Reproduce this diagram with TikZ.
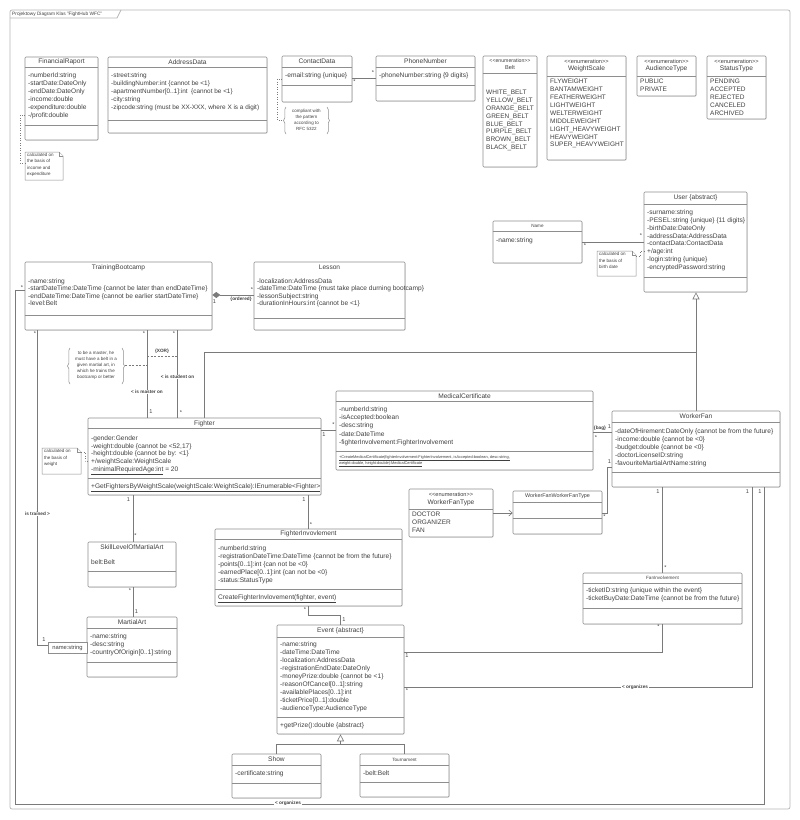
\documentclass[tikz,border=0pt]{standalone}
\usepackage{fontspec}
\setmainfont{Liberation Sans}
\usetikzlibrary{arrows.meta,decorations.pathreplacing,shadows,fit}
\definecolor{ln}{HTML}{8E8E8E}
\definecolor{tx}{HTML}{404040}
\definecolor{cn}{HTML}{7A7A7A}
\definecolor{fl}{HTML}{B4B4B4}
\tikzset{
  umlbox/.style={draw=ln, line width=0.6pt, fill=white, rounded corners=1pt, inner sep=0pt,
    drop shadow={shadow xshift=0.7pt, shadow yshift=-0.7pt, opacity=0.25}},
  sepline/.style={draw=ln, line width=0.5pt},
  txt/.style={text=tx, inner sep=0pt, anchor=north west, align=left, font=\fontsize{6.6}{7.9}\selectfont},
  ttl/.style={text=tx, inner sep=0pt, anchor=center, font=\fontsize{6.6}{7.6}\selectfont},
  sttl/.style={text=tx, inner sep=0pt, anchor=center, font=\fontsize{4.6}{5.5}\selectfont},
  conn/.style={draw=cn, line width=0.6pt},
  mult/.style={text=tx, inner sep=0pt, font=\fontsize{5.6}{6}\selectfont},
  lbl/.style={text=tx, inner sep=0.6pt, fill=white, font=\bfseries\fontsize{4.7}{5}\selectfont},
  notetxt/.style={text=tx, inner sep=0pt, anchor=north west, align=left, font=\fontsize{4.5}{6.3}\selectfont},
  bracetxt/.style={text=tx, inner sep=0pt, anchor=north, align=center, font=\fontsize{4.5}{5.9}\selectfont},
  notel/.style={draw=ln, line width=0.5pt, fill=white},
  dotc/.style={draw=cn, line width=0.5pt, dotted},
  dashc/.style={draw=cn, line width=0.5pt, dash pattern=on 2pt off 1.5pt},
  bracel/.style={draw=ln, line width=0.5pt, decorate, decoration={brace, amplitude=2.5pt}},
  framel/.style={draw=fl, line width=0.7pt},
}
\newcommand{\umlcls}[5]{\node[umlbox, fit={(#2,#3) (#4,#5)}] (#1) {};}
\newcommand{\usep}[2]{\draw[sepline] (#1.west |- 0,#2) -- (#1.east |- 0,#2);}
\newcommand{\notefold}[5]{%
  \draw[notel] (#2,#3) -- (#4-4,#3) -- (#4,#3+4) -- (#4,#5) -- (#2,#5) -- cycle;
  \draw[notel] (#4-4,#3) -- (#4-4,#3+4) -- (#4,#3+4);
  \coordinate (#1) at (#2,#3);}
\begin{document}
\begin{tikzpicture}[x=1pt,y=-1pt]
\useasboundingbox (0,0) rectangle (800,820);
% frame
\draw[framel, rounded corners=2pt] (10,10) rectangle (790,809);
\node[anchor=west, text=tx, inner sep=0pt, font=\fontsize{4.8}{5}\selectfont] (frametitle) at (12,13.8) {Projektowy Diagram Klas "FightHub WFC"};
\draw[framel] (10,18) -- (117,18) -- (121,10);

% ---------- FinancialRaport
\umlcls{fr}{25}{57}{98}{140}
\node[ttl] (frt) at (61.5,62) {FinancialRaport};
\usep{fr}{67}\usep{fr}{125}
\node[txt, font=\fontsize{6.6}{8}\selectfont] (fra) at (28,72.5) {-numberId:string\\-startDate:DateOnly\\-endDate:DateOnly\\-income:double\\-expenditure:double\\-/profit:double};
\notefold{n1}{25}{152}{63}{180}
\node[notetxt] (n1t) at (27,153) {calculated on\\the basis of\\income and\\expenditure};
\draw[dotc] (fr.west |- 0,115) -- (20,115) -- (20,163) -- (n1 |- 0,163);

% ---------- AddressData
\umlcls{ad}{108}{57}{267}{133}
\node[ttl] (adt) at (187.5,62) {AddressData};
\usep{ad}{67}\usep{ad}{120}
\node[txt, font=\fontsize{6.4}{8}\selectfont] (ada) at (111,72.5) {-street:string\\-buildingNumber:int \{cannot be <1\}\\-apartmentNumber[0..1]:int \ \{cannot be <1\}\\-city:string\\-zipcode:string (must be XX-XXX, where X is a digit)};

% ---------- ContactData / PhoneNumber
\umlcls{cd}{282}{56}{352}{102}
\node[ttl] (cdt) at (317,61.5) {ContactData};
\usep{cd}{67}\usep{cd}{85}
\node[txt] (cda) at (285,72.5) {-email:string \{unique\}};
\umlcls{pn}{376}{56}{475}{101}
\node[ttl] (pnt) at (425.5,61.5) {PhoneNumber};
\usep{pn}{67}\usep{pn}{85}
\node[txt] (pna) at (379,72.5) {-phoneNumber:string \{9 digits\}};
\draw[conn] (cd.east |- 0,78) -- (pn.west |- 0,78);
\node[mult] (m-cd) at (354.5,81.5) {*};
\node[mult] (m-pn) at (373,73) {*};
\node[bracetxt] (n2t) at (306.5,109) {compliant with\\the pattern\\according to\\RFC 5322};
\draw[bracel] (286,134) -- (286,107);
\draw[bracel] (327,107) -- (327,134);
\coordinate (n2) at (283,120);
\draw[dotc] (cd.west |- 0,79) -- (277,79) -- (277,120) -- (n2);

% ---------- Enumerations
\umlcls{belt}{483}{56}{537}{167}
\node[ttl, font=\fontsize{5.2}{6}\selectfont] (belt1) at (510,60.5) {<{}<enumeration>{}>};
\node[ttl, font=\fontsize{5.6}{6}\selectfont] (belt2) at (510,67) {Belt};
\usep{belt}{73}
\node[txt, font=\fontsize{6.5}{7.86}\selectfont] (belta) at (486,90) {WHITE\_BELT\\YELLOW\_BELT\\ORANGE\_BELT\\GREEN\_BELT\\BLUE\_BELT\\PURPLE\_BELT\\BROWN\_BELT\\BLACK\_BELT};

\umlcls{ws}{547}{56}{626}{160}
\node[ttl, font=\fontsize{5.6}{6}\selectfont] (ws1) at (586.5,61) {<{}<enumeration>{}>};
\node[ttl] (ws2) at (586.5,69) {WeightScale};
\usep{ws}{76}
\node[txt, font=\fontsize{6.5}{7.9}\selectfont] (wsa) at (550,79) {FLYWEIGHT\\BANTAMWEIGHT\\FEATHERWEIGHT\\LIGHTWEIGHT\\WELTERWEIGHT\\MIDDLEWEIGHT\\LIGHT\_HEAVYWEIGHT\\HEAVYWEIGHT\\SUPER\_HEAVYWEIGHT};

\umlcls{at}{637}{56}{696}{96}
\node[ttl, font=\fontsize{5.6}{6}\selectfont] (at1) at (666.5,61) {<{}<enumeration>{}>};
\node[ttl] (at2) at (666.5,69) {AudienceType};
\usep{at}{76}
\node[txt, font=\fontsize{6.5}{7.9}\selectfont] (ata) at (640,79) {PUBLIC\\PRIVATE};

\umlcls{st}{707}{56}{766}{119}
\node[ttl, font=\fontsize{5.6}{6}\selectfont] (st1) at (736.5,61) {<{}<enumeration>{}>};
\node[ttl] (st2) at (736.5,69) {StatusType};
\usep{st}{76}
\node[txt, font=\fontsize{6.5}{7.9}\selectfont] (sta) at (710,79) {PENDING\\ACCEPTED\\REJECTED\\CANCELED\\ARCHIVED};

% ---------- Name / User
\umlcls{nm}{493}{221}{582}{263}
\node[sttl] (nmt) at (537.5,226) {Name};
\usep{nm}{231}
\node[txt] (nma) at (496,237.5) {-name:string};

\umlcls{user}{644}{192}{747}{292}
\node[ttl] (usert) at (695.5,197.5) {User \{abstract\}};
\usep{user}{204}\usep{user}{277}
\node[txt, font=\fontsize{6.6}{7.86}\selectfont] (usera) at (647,209.5) {-surname:string\\-PESEL:string \{unique\} \{11 digits\}\\-birthDate:DateOnly\\-addressData:AddressData\\-contactData:ContactData\\+/age:int\\-login:string \{unique\}\\-encryptedPassword:string};
\draw[conn] (nm.east |- 0,242) -- (user.west |- 0,242);
\node[mult] (m-nm) at (585,246) {*};
\node[mult] (m-us) at (641,236) {*};
\notefold{n3}{597}{251}{636}{276}
\node[notetxt] (n3t) at (599,252.5) {calculated on\\the basis of\\birth date};
\draw[dotc] (636,256) -- (640,256) -- (640,251) -- (user.west |- 0,251);

% generalization to User
\draw[conn] (204,418) -- (204,352) -- (696,352);
\draw[conn, -{Triangle[open, length=7pt, width=7pt]}] (696,411) -- (user.south -| 696,0);

% ---------- TrainingBootcamp / Lesson
\umlcls{tb}{25}{262}{212}{330}
\node[ttl] (tbt) at (118.5,267.5) {TrainingBootcamp};
\usep{tb}{315}
\node[txt, font=\fontsize{6.6}{7.3}\selectfont] (tba) at (28,278.5) {-name:string\\-startDateTime:DateTime \{cannot be later than endDateTime\}\\-endDateTime:DateTime \{cannot be earlier startDateTime\}\\-level:Belt};

\umlcls{ls}{254}{262}{405}{330}
\node[ttl] (lst) at (329.5,267.5) {Lesson};
\usep{ls}{318}
\node[txt, font=\fontsize{6.6}{7.3}\selectfont] (lsa) at (257,278.5) {-localization:AddressData\\-dateTime:DateTime \{must take place durning bootcamp\}\\-lessonSubject:string\\-durationInHours:int \{cannot be <1\}};
\draw[conn, {Diamond[length=8pt, width=6pt]}-] (tb.east |- 0,295) -- (ls.west |- 0,295);
\node[mult] (m-tb1) at (214.5,302) {1};
\node[lbl, fill=none] (ordered) at (241,299) {\{ordered\}};
\node[mult] (m-ls) at (252,289.5) {*};

% ---------- Fighter
\umlcls{fg}{88}{418}{321}{495}
\node[ttl] (fgt) at (204.5,423.5) {Fighter};
\usep{fg}{428}\usep{fg}{478}
\node[txt, font=\fontsize{6.6}{7.75}\selectfont] (fga) at (91,435.5) {-gender:Gender\\-weight:double \{cannot be <52,17\}\\-height:double \{cannot be by: <1\}\\+/weightScale:WeightScale\\\underline{-minimalRequiredAge:int} = 20};
\node[txt] (fgm) at (91,483.5) {\underline{+GetFightersByWeightScale(weightScale:WeightScale):IEnumerable<Fighter>}};
\notefold{n4}{42}{448}{81}{474}
\node[notetxt] (n4t) at (44,449.5) {calculated on\\the basis of\\weight};
\draw[dotc] (81,452) -- (85,452) -- (85,461) -- (fg.west |- 0,461);

% TB - Fighter
\draw[conn] (tb.south -| 147,0) -- (fg.north -| 147,0);
\draw[conn] (tb.south -| 177,0) -- (fg.north -| 177,0);
\node[mult] (m-tb2) at (144,333.5) {*};
\node[mult] (m-tb3) at (174,333.5) {*};
\node[mult] (m-fg1) at (151,412) {1};
\node[mult] (m-fg2) at (181,412.5) {*};
\draw[dashc] (147,356) -- (177,356);
\node[lbl, fill=none] (xor) at (162,351) {\{XOR\}};
\node[lbl] (master) at (147,392) {< is master on};
\node[lbl] (student) at (177.5,377) {< is student on};
\node[bracetxt] (n5t) at (96,351) {to be a master, he\\must have a belt in a\\given martial art, in\\which he trains the\\bootcamp or better};
\draw[bracel] (70,384) -- (70,348);
\draw[bracel] (122,348) -- (122,384);
\coordinate (n5) at (125,365);
\draw[dashc] (n5) -- (147,365);

% ---------- MedicalCertificate
\umlcls{mc}{336}{391}{593}{470}
\node[ttl] (mct) at (464.5,396) {MedicalCertificate};
\usep{mc}{401}\usep{mc}{451}
\node[txt, font=\fontsize{6.6}{8.25}\selectfont] (mca) at (339,406.5) {-numberId:string\\-isAccepted:boolean\\-desc:string\\-date:DateTime\\-fighterInvolvement:FighterInvolvement};
\node[txt, font=\fontsize{3.9}{6}\selectfont] (mcm) at (339,455) {\underline{+CreateMedicalCertificate(fighterInvolvement:FighterInvolvement, isAccepted:boolean, desc:string,}\\\underline{weight:double, height:double):MedicalCertificate}};
\draw[conn] (fg.east |- 0,430) -- (mc.west |- 0,430);
\node[mult] (m-fg3) at (324,435) {1};
\node[mult] (m-mc1) at (333.5,424.5) {*};

% ---------- WorkerFan
\umlcls{wf}{612}{411}{780}{487}
\node[ttl] (wft) at (696,416.5) {WorkerFan};
\usep{wf}{422}\usep{wf}{472}
\node[txt, font=\fontsize{6.6}{8}\selectfont] (wfa) at (615,428.5) {-dateOfHirement:DateOnly \{cannot be from the future\}\\-income:double \{cannot be <0\}\\-budget:double \{cannot be <0\}\\-doctorLicenseID:string\\-favouriteMartialArtName:string};
\draw[conn] (mc.east |- 0,432) -- (wf.west |- 0,432);
\node[lbl, fill=none] (bag) at (600,428) {\{bag\}};
\node[mult] (m-wf1) at (609.5,427) {1};
\node[mult] (m-mc2) at (596,437.5) {*};

% ---------- WorkerFanType / WorkerFanWorkerFanType
\umlcls{wftype}{409}{489}{493}{537}
\node[ttl, font=\fontsize{5.6}{6}\selectfont] (wfty1) at (451,494) {<{}<enumeration>{}>};
\node[ttl] (wfty2) at (451,502.5) {WorkerFanType};
\usep{wftype}{509}
\node[txt, font=\fontsize{6.5}{7.9}\selectfont] (wftya) at (412,511.5) {DOCTOR\\ORGANIZER\\FAN};
\umlcls{wfw}{513}{491}{602}{534}
\node[ttl, font=\fontsize{5.4}{6}\selectfont] (wfwt) at (557.5,496.5) {WorkerFanWorkerFanType};
\usep{wfw}{502}\usep{wfw}{518}
\draw[conn, -{Straight Barb[length=3.5pt, width=6pt]}] (wftype.east |- 0,513) -- (wfw.west |- 0,513);
\draw[conn] (wfw.east |- 0,513) -- (607,513) -- (607,467) -- (wf.west |- 0,467);
\node[mult] (m-wfw) at (604.5,517) {*};
\node[mult] (m-wf2) at (609.5,462) {1};

% ---------- SkillLevelOfMartialArt / MartialArt
\umlcls{sk}{88}{542}{176}{587}
\node[ttl] (skt) at (132,547) {SkillLevelOfMartialArt};
\usep{sk}{571}
\node[txt] (ska) at (91,559.5) {belt:Belt};
\draw[conn] (fg.south -| 133,0) -- (sk.north -| 133,0);
\node[mult] (m-fg4) at (128.5,499.5) {1};
\node[mult] (m-sk1) at (135.5,536) {*};

\umlcls{ma}{87}{617}{177}{677}
\node[ttl] (mat) at (132,622) {MartialArt};
\usep{ma}{628}\usep{ma}{662}
\node[txt, font=\fontsize{6.6}{8}\selectfont] (maa) at (90,633.5) {-name:string\\-desc:string\\-countryOfOrigin[0..1]:string};
\draw[conn] (sk.south -| 133,0) -- (ma.north -| 133,0);
\node[mult] (m-sk2) at (130,591) {*};
\node[mult] (m-ma1) at (136.5,612) {1};
\node[draw=ln, line width=0.5pt, fill=white, inner sep=0pt, fit={(48,642) (87,653)}] (qual) {};
\node[ttl, font=\fontsize{5.8}{6}\selectfont] (qualt) at (67.5,647.5) {name:string};
\draw[conn] (tb.south -| 37,0) -- (37,645) -- (qual.west |- 0,645);
\node[mult] (m-tb4) at (35,333.5) {*};
\node[mult] (m-ma2) at (44,640) {1};
\node[lbl] (trained) at (37.5,514) {is trained >};

% ---------- FighterInvolvement
\umlcls{fi}{215}{529}{402}{606}
\node[ttl] (fit) at (308.5,533.5) {FighterInvovlement};
\usep{fi}{539}\usep{fi}{589}
\node[txt, font=\fontsize{6.6}{8}\selectfont] (fia) at (218,545.5) {-numberId:string\\-registrationDateTime:DateTime \{cannot be from the future\}\\-points[0..1]:int \{can not be <0\}\\-earnedPlace[0..1]:int \{can not be <0\}\\-status:StatusType};
\node[txt] (fim) at (218,594.5) {\underline{CreateFighterInvlovement(fighter, event)}};
\draw[conn] (fg.south -| 308,0) -- (fi.north -| 308,0);
\node[mult] (m-fg5) at (304,499.5) {1};
\node[mult] (m-fi1) at (311,524.5) {*};

% ---------- Event
\umlcls{ev}{277}{625}{404}{734}
\node[ttl] (evt) at (340.5,631) {Event \{abstract\}};
\usep{ev}{637}\usep{ev}{717}
\node[txt, font=\fontsize{6.6}{8}\selectfont] (eva) at (280,641.5) {-name:string\\-dateTime:DateTime\\-localization:AddressData\\-registrationEndDate:DateOnly\\-moneyPrize:double \{cannot be <1\}\\-reasonOfCancel[0..1]:string\\-availablePlaces[0..1]:int\\-ticketPrice[0..1]:double\\-audienceType:AudienceType};
\node[txt] (evm) at (280,722.5) {+getPrize():double \{abstract\}};
\draw[conn] (fi.south -| 308,0) -- (308,615) -- (340,615) -- (ev.north -| 340,0);
\node[mult] (m-fi2) at (305,609.5) {*};
\node[mult] (m-ev1) at (344,620) {1};

% ---------- Show / Tournament
\umlcls{sh}{232}{754}{321}{798}
\node[ttl] (sht) at (276.5,759.5) {Show};
\usep{sh}{765}\usep{sh}{783}
\node[txt] (sha) at (235,770.5) {-certificate:string};
\umlcls{tr}{360}{754}{449}{797}
\node[sttl] (trt) at (404.5,759.5) {Tournament};
\usep{tr}{765}\usep{tr}{782}
\node[txt] (tra) at (363,770.5) {-belt:Belt};
\draw[conn] (sh.north) -- (sh.north |- 0,744) -- (tr.north |- 0,744) -- (tr.north);
\draw[conn, -{Triangle[open, length=7pt, width=7pt]}] (340.5,744) -- (ev.south -| 340.5,0);

% ---------- FanInvolvement
\umlcls{fan}{583}{573}{742}{624}
\node[sttl] (fant) at (662.5,578) {FanInvolvement};
\usep{fan}{583}\usep{fan}{608}
\node[txt] (fana) at (586,587.5) {-ticketID:string \{unique within the event\}\\-ticketBuyDate:DateTime \{cannot be from the future\}};
\draw[conn] (wf.south -| 662,0) -- (fan.north -| 662,0);
\node[mult] (m-wf3) at (658,491.5) {1};
\node[mult] (m-fan1) at (665.5,568) {*};
\draw[conn] (fan.south -| 662,0) -- (662,652) -- (ev.east |- 0,652);
\node[mult] (m-fan2) at (658.5,627) {*};
\node[mult] (m-ev2) at (407,656) {1};

% ---------- organizes
\draw[conn] (wf.south -| 752,0) -- (752,687) -- (ev.east |- 0,687);
\node[mult] (m-wf4) at (747.5,491.5) {1};
\node[mult] (m-ev3) at (407,690.5) {*};
\node[lbl] (org1) at (635,687) {< organizes};
\draw[conn] (wf.south -| 764,0) -- (764,804) -- (15,804) -- (15,290) -- (tb.west |- 0,290);
\node[mult] (m-wf5) at (760,491.5) {1};
\node[mult] (m-tb5) at (22,288) {*};
\node[lbl] (org2) at (288,803.5) {< organizes};
\end{tikzpicture}
\end{document}
